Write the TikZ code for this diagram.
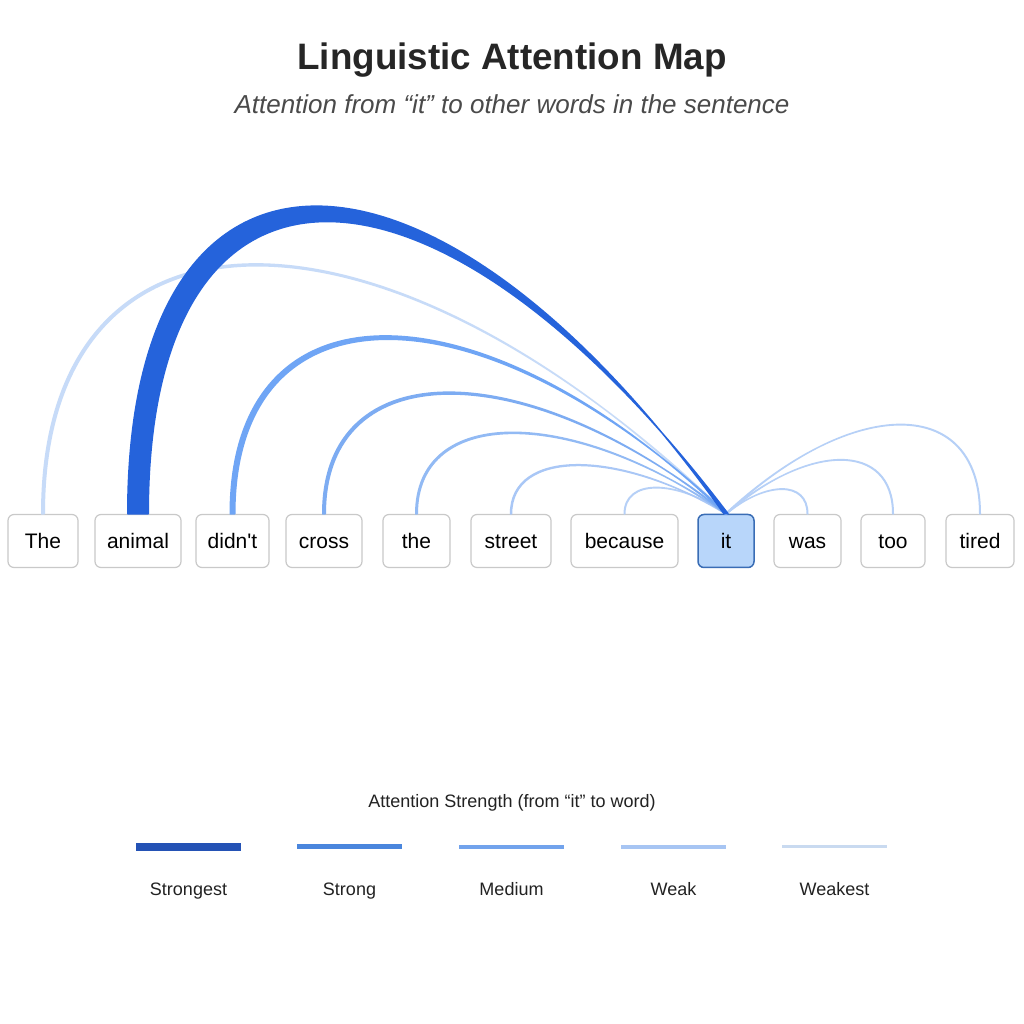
\documentclass[tikz,border=0pt]{standalone}
\usepackage{fontspec}
\setmainfont{Liberation Sans}[Ligatures=TeXOff]
\usetikzlibrary{calc}

\definecolor{titlegray}{HTML}{262626}
\definecolor{subgray}{HTML}{4A4A4A}
\definecolor{boxgray}{HTML}{C9C9C9}
\definecolor{itborder}{HTML}{3A6DB5}
\definecolor{itfill}{HTML}{B8D6FA}
\definecolor{arcA}{HTML}{2563DB}
\definecolor{arcB}{HTML}{6FA5F5}
\definecolor{arcC}{HTML}{7DACF2}
\definecolor{arcD}{HTML}{92BAF4}
\definecolor{arcE}{HTML}{A9C7F6}
\definecolor{arcF}{HTML}{B6D0F7}
\definecolor{arcG}{HTML}{C7DBF8}
\definecolor{legA}{HTML}{2452B5}
\definecolor{legB}{HTML}{4A86DD}
\definecolor{legC}{HTML}{72A3EC}
\definecolor{legD}{HTML}{A7C5F3}
\definecolor{legE}{HTML}{C9DAF0}
\definecolor{legtext}{HTML}{222222}

\begin{document}
\begin{tikzpicture}[x=1pt,y=1pt]
        \fill[white] (0,0) rectangle (1024,1024);
        \useasboundingbox (0,0) rectangle (1024,1024);
        \node[font=\fontsize{36.8}{40}\selectfont\bfseries, text=titlegray, anchor=base] (title) at (512,954) {Linguistic Attention Map};
        \node[font=\fontsize{26}{30}\selectfont\itshape, text=subgray, anchor=base] (subtitle) at (512,910) {Attention from “it” to other words in the sentence};
        \begin{scope}[every node/.style={draw=boxgray,line width=1.2pt,fill=white,rounded corners=6pt,minimum height=53pt,text height=15pt,text depth=0pt,inner sep=0pt,font=\fontsize{21}{25}\selectfont}]
            \node[minimum width=70pt] (1) at (43,483) {The};
            \node[minimum width=86pt] (2) at (138,483) {animal};
            \node[minimum width=73pt] (3) at (232.5,483) {didn't};
            \node[minimum width=76pt] (4) at (324,483) {cross};
            \node[minimum width=67pt] (5) at (416.5,483) {the};
            \node[minimum width=80pt] (6) at (511,483) {street};
            \node[minimum width=107pt] (7) at (624.5,483) {because};
            \node[minimum width=56pt,draw=itborder,fill=itfill,line width=1.5pt] (8) at (726,483) {it};
            \node[minimum width=67pt] (9) at (807.5,483) {was};
            \node[minimum width=64pt] (10) at (893,483) {too};
            \node[minimum width=68pt] (11) at (980,483) {tired};
        \end{scope}
        \begin{scope}[every edge/.style={line width=1.5pt,line join=round},
            attn/.style n args={4}{draw=#4,fill=#4,to path={
                ([xshift={-(#3)*(#2)}]\tikztostart.north)
                .. controls ([xshift={-(#3)*(#2)},yshift={#1+#2}]\tikztostart.north)
                and ($(\tikztostart.north)!.5!(\tikztotarget.north)+(0,{#1+#2})$)
                .. ([xshift={-(#3)*(0.5+0.15*#2)}]\tikztotarget.north)
                -- ([xshift={(#3)*(0.5+0.15*#2)}]\tikztotarget.north)
                .. controls ($(\tikztostart.north)!.5!(\tikztotarget.north)+(0,{#1-#2})$)
                and ([xshift={(#3)*(#2)},yshift={#1-#2}]\tikztostart.north)
                .. ([xshift={(#3)*(#2)}]\tikztostart.north) -- cycle}}]
            \path
                (1) edge[attn={332}{1.25}{1}{arcG}] (8)
                (9) edge[attn={33}{0.25}{-1}{arcF}] (8)
                (10) edge[attn={72}{0.25}{-1}{arcF}] (8)
                (11) edge[attn={119}{0.25}{-1}{arcF}] (8)
                (7) edge[attn={35}{0.25}{1}{arcF}] (8)
                (6) edge[attn={65}{0.5}{1}{arcE}] (8)
                (5) edge[attn={108}{0.75}{1}{arcD}] (8)
                (4) edge[attn={161}{1.25}{1}{arcC}] (8)
                (3) edge[attn={235}{2.25}{1}{arcB}] (8)
                (2) edge[attn={400}{10.25}{1}{arcA}] (8);
        \end{scope}
        \node[font=\fontsize{18}{22}\selectfont, text=legtext, anchor=base] (legend) at (512,216.5) {Attention Strength (from “it” to word)};
        \begin{scope}[every node/.style={minimum width=105pt,inner sep=0pt,outer sep=0pt}]
            \node[fill=legA,minimum height=8pt] (b1) at (188.5,177) {};
            \node[fill=legB,minimum height=5pt] (b2) at (349.5,177) {};
            \node[fill=legC,minimum height=4.5pt] (b3) at (511.5,177) {};
            \node[fill=legD,minimum height=4pt] (b4) at (673.5,177) {};
            \node[fill=legE,minimum height=3pt] (b5) at (834.5,177) {};
        \end{scope}
        \begin{scope}[every node/.style={font=\fontsize{18}{22}\selectfont,text=legtext,anchor=base}]
            \node (l1) at (188.5,128) {Strongest};
            \node (l2) at (349.5,128) {Strong};
            \node (l3) at (511.5,128) {Medium};
            \node (l4) at (673.5,128) {Weak};
            \node (l5) at (834.5,128) {Weakest};
        \end{scope}
    \end{tikzpicture}
\end{document}
